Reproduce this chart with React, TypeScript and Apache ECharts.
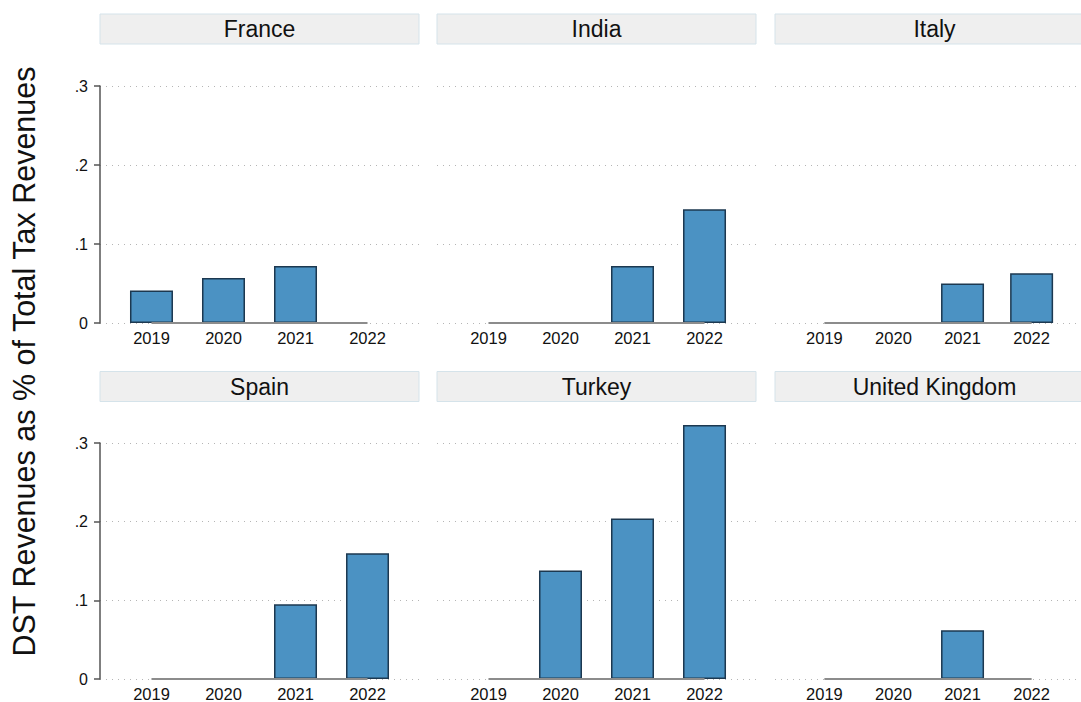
import React, { useEffect, useRef } from "react";
import * as echarts from "echarts";

const years = [2019, 2020, 2021, 2022];
const countries = ["France", "India", "Italy", "Spain", "Turkey", "United Kingdom"];
const france = [0.041, 0.057, 0.072, 0];
const india = [0, 0, 0.072, 0.144];
const italy = [0, 0, 0.050, 0.063];
const spain = [0, 0, 0.095, 0.160];
const turkey = [0, 0.138, 0.204, 0.323];
const unitedKingdom = [0, 0, 0.062, 0];
const valuesByCountry = [france, india, italy, spain, turkey, unitedKingdom];
const yTitle = "DST Revenues as % of Total Tax Revenues";

const FONT = '"Liberation Sans", Arial, Helvetica, sans-serif';

export default function App() {
  const ref = useRef<HTMLDivElement>(null);
  useEffect(() => {
    const chart = echarts.init(ref.current!, null, { renderer: "svg" });
    const colLeft = [100, 437, 775];
    const rowTop = [86, 443];
    const stripTop = [14, 371.5];
    const W = 319;
    const H = 237;
    const grids: any[] = [];
    const xAxes: any[] = [];
    const yAxes: any[] = [];
    const series: any[] = [];
    const graphics: any[] = [];
    countries.forEach((name, i) => {
      const r = Math.floor(i / 3);
      const c = i % 3;
      const vals = valuesByCountry[i];
      grids.push({ left: colLeft[c], top: rowTop[r], width: W, height: H });
      xAxes.push({
        type: "value",
        gridIndex: i,
        min: 2018.285,
        max: 2022.715,
        axisLine: { show: false },
        axisTick: { show: false },
        splitLine: { show: false },
        axisLabel: {
          customValues: years,
          formatter: (v: number) => String(v),
          fontSize: 16.5,
          color: "#111",
          fontFamily: FONT,
          margin: 6,
        },
      });
      yAxes.push({
        type: "value",
        gridIndex: i,
        min: 0,
        max: 0.3,
        interval: 0.1,
        axisLine: { show: c === 0, lineStyle: { color: "#555", width: 1.5 } },
        axisTick: { show: c === 0, length: 6, lineStyle: { color: "#555", width: 1.5 } },
        axisLabel: {
          show: c === 0,
          fontSize: 16,
          color: "#111",
          fontFamily: FONT,
          margin: 12,
          formatter: (v: number) => (v === 0 ? "0" : String(Math.round(v * 10) / 10).replace(/^0/, "")),
        },
        splitLine: { show: true, lineStyle: { type: [1, 5], color: "#b5b5b5", width: 1 } },
      });
      series.push({
        type: "bar",
        xAxisIndex: i,
        yAxisIndex: i,
        barWidth: 43,
        clip: false,
        z: 2,
        itemStyle: { color: "#4b92c3", borderColor: "#1c3850", borderWidth: 1.5 },
        data: years.map((y, k) => ({
          value: [y, vals[k]],
          itemStyle: vals[k] === 0 ? { borderWidth: 0 } : undefined,
        })),
      });
      series.push({
        type: "line",
        xAxisIndex: i,
        yAxisIndex: i,
        symbol: "none",
        silent: true,
        z: 3,
        lineStyle: { color: "#8c8c8c", width: 2 },
        data: years.map((y) => [y, 0]),
      });
      graphics.push({
        type: "rect",
        shape: { x: colLeft[c], y: stripTop[r], width: W, height: 30 },
        style: { fill: "#efefef", stroke: "#d5e3ea", lineWidth: 1 },
      });
      graphics.push({
        type: "text",
        x: colLeft[c] + W / 2,
        y: stripTop[r] + 15,
        style: {
          text: name,
          align: "center",
          verticalAlign: "middle",
          fontSize: 23,
          fontFamily: FONT,
          fill: "#111",
        },
      });
    });
    graphics.push({
      type: "text",
      x: 24,
      y: 361.5,
      rotation: Math.PI / 2,
      style: {
        text: yTitle,
        align: "center",
        verticalAlign: "middle",
        fontSize: 30.5,
        fontFamily: FONT,
        fill: "#111",
      },
    });
    chart.setOption({
      animation: false,
      backgroundColor: "#fff",
      grid: grids,
      xAxis: xAxes,
      yAxis: yAxes,
      series,
      graphic: graphics,
    });
    return () => chart.dispose();
  }, []);
  return (
    <div
      ref={ref}
      style={{ position: "fixed", left: 0, top: 0, width: 1081, height: 702, background: "#fff" }}
    />
  );
}
